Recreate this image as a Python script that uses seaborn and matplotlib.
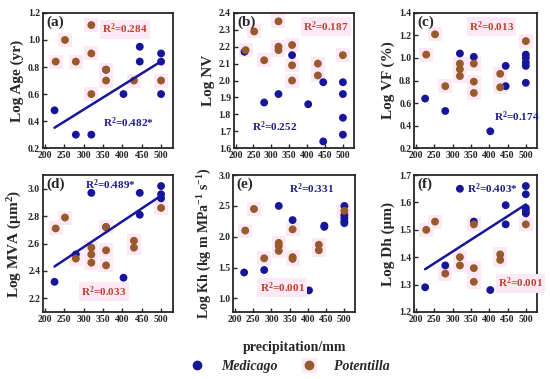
import numpy
import pandas
import seaborn
from matplotlib import pyplot
from matplotlib.legend_handler import HandlerTuple

# ---------------- data ----------------
# (a) Log Age
age_med_x = [225, 280, 320, 358, 403, 445, 445, 500, 500, 500]
age_med_y = [0.48, 0.30, 0.30, 0.78, 0.60, 0.95, 0.84, 0.90, 0.84, 0.60]
age_pot_x = [228, 252, 280, 320, 320, 320, 358, 358, 430, 500]
age_pot_y = [0.84, 1.00, 0.84, 1.11, 0.90, 0.60, 0.78, 0.70, 0.70, 0.70]

# (b) Log NV
nv_med_x = [225, 280, 320, 358, 403, 445, 445, 500, 500, 500, 500]
nv_med_y = [2.17, 1.87, 1.92, 2.15, 1.86, 1.99, 1.64, 1.99, 1.92, 1.78, 1.68]
nv_pot_x = [228, 252, 280, 320, 320, 320, 358, 358, 358, 430, 430, 500]
nv_pot_y = [2.18, 2.29, 2.12, 2.35, 2.20, 2.18, 2.21, 2.09, 2.00, 2.10, 2.03, 2.15]

# (c) Log VF
vf_med_x = [225, 280, 320, 358, 403, 445, 445, 500, 500, 500, 500, 500]
vf_med_y = [0.64, 0.53, 1.04, 1.01, 0.35, 0.93, 0.75, 1.03, 1.00, 0.96, 0.93, 0.78]
vf_pot_x = [228, 252, 280, 320, 320, 320, 358, 358, 358, 430, 430, 500]
vf_pot_y = [1.03, 1.21, 0.75, 0.95, 0.90, 0.84, 0.95, 0.79, 0.69, 0.86, 0.74, 1.15]

# (d) Log MVA
mva_med_x = [225, 280, 320, 358, 403, 445, 445, 500, 500, 500]
mva_med_y = [2.32, 2.52, 2.97, 2.72, 2.35, 2.97, 2.81, 3.02, 2.96, 2.93]
mva_pot_x = [228, 252, 280, 320, 320, 320, 358, 358, 358, 430, 430, 500]
mva_pot_y = [2.71, 2.79, 2.49, 2.57, 2.52, 2.46, 2.72, 2.55, 2.44, 2.62, 2.57, 2.86]

# (e) Log Kh
kh_med_x = [225, 280, 320, 358, 403, 445, 445, 500, 500, 500, 500, 500]
kh_med_y = [1.42, 1.46, 2.50, 2.27, 1.13, 2.18, 2.16, 2.50, 2.35, 2.30, 2.25, 2.22]
kh_pot_x = [228, 252, 280, 320, 320, 320, 358, 358, 358, 430, 430, 500]
kh_pot_y = [2.10, 2.45, 1.65, 1.90, 1.85, 1.77, 2.12, 1.67, 1.64, 1.87, 1.78, 2.42]

# (f) Log Dh
dh_med_x = [225, 280, 320, 358, 403, 445, 445, 500, 500, 500, 500, 500]
dh_med_y = [1.29, 1.37, 1.65, 1.53, 1.28, 1.59, 1.52, 1.66, 1.63, 1.58, 1.57, 1.56]
dh_pot_x = [228, 252, 280, 320, 320, 358, 358, 358, 430, 430, 500]
dh_pot_y = [1.50, 1.53, 1.34, 1.40, 1.37, 1.52, 1.36, 1.31, 1.41, 1.39, 1.52]

BLUE = '#16169a'
BROWN = '#985a2c'
RED_TEXT = '#b8432e'
BLUE_TEXT = '#1c1c8a'
PINK = '#fde8f5'

seaborn.set_style('ticks')
pyplot.rcParams['font.family'] = ['Liberation Serif', 'DejaVu Serif']
pyplot.rcParams['font.weight'] = 'bold'
pyplot.rcParams['mathtext.fontset'] = 'custom'
pyplot.rcParams['mathtext.rm'] = 'Liberation Serif:bold'
pyplot.rcParams['mathtext.bf'] = 'Liberation Serif:bold'
pyplot.rcParams['mathtext.it'] = 'Liberation Serif:bold:italic'
pyplot.rcParams['mathtext.default'] = 'bf'

panels = [
    # label, ylabel, label size, med x, med y, pot x, pot y, ylim, yticks, line?,
    # blue text, brown text, position
    ('(a)', 'Log Age (yr)', 11, age_med_x, age_med_y, age_pot_x, age_pot_y,
     (0.2, 1.2), numpy.arange(0.2, 1.21, 0.2), True,
     ('R$^2$=0.482*', 0.66, 0.19), ('R$^2$=0.284', 0.63, 0.88),
     [0.078, 0.609, 0.236, 0.357]),
    ('(b)', 'Log NV', 11, nv_med_x, nv_med_y, nv_pot_x, nv_pot_y,
     (1.6, 2.4), numpy.arange(1.6, 2.41, 0.1), False,
     ('R$^2$=0.252', 0.34, 0.16), ('R$^2$=0.187', 0.77, 0.90),
     [0.425, 0.609, 0.218, 0.357]),
    ('(c)', 'Log VF (%)', 11, vf_med_x, vf_med_y, vf_pot_x, vf_pot_y,
     (0.2, 1.4), numpy.arange(0.2, 1.41, 0.2), False,
     ('R$^2$=0.174', 0.84, 0.23), ('R$^2$=0.013', 0.63, 0.90),
     [0.753, 0.609, 0.223, 0.357]),
    ('(d)', 'Log MVA (μm$^2$)', 11, mva_med_x, mva_med_y, mva_pot_x, mva_pot_y,
     (2.1, 3.1), numpy.arange(2.2, 3.01, 0.2), True,
     ('R$^2$=0.489*', 0.52, 0.93), ('R$^2$=0.033', 0.47, 0.15),
     [0.078, 0.177, 0.236, 0.361]),
    ('(e)', 'Log Kh (kg m MPa$^{-1}$ s$^{-1}$)', 10, kh_med_x, kh_med_y, kh_pot_x, kh_pot_y,
     (0.78, 3.0), numpy.arange(1.0, 3.01, 0.5), False,
     ('R$^2$=0.331', 0.64, 0.90), ('R$^2$=0.001', 0.40, 0.18),
     [0.424, 0.177, 0.222, 0.361]),
    ('(f)', 'Log Dh (μm)', 11, dh_med_x, dh_med_y, dh_pot_x, dh_pot_y,
     (1.2, 1.7), numpy.arange(1.2, 1.71, 0.1), True,
     ('R$^2$=0.403*', 0.64, 0.90), ('R$^2$=0.001', 0.87, 0.21),
     [0.753, 0.177, 0.223, 0.361]),
]

figure = pyplot.figure(figsize=(5.5, 3.79), dpi=100)

for (label, ylabel, label_size, mx, my, px, py, ylim, yticks, line,
     blue_text, brown_text, position) in panels:

    axes = figure.add_axes(position)

    # pale pink squares behind the Potentilla points, as in the reference
    axes.scatter(px, py, marker='s', s=90, color=PINK, linewidths=0, zorder=1)

    medicago = pandas.DataFrame({'x': mx, 'y': my})
    potentilla = pandas.DataFrame({'x': px, 'y': py})
    seaborn.scatterplot(data=potentilla, x='x', y='y', color=BROWN, s=32,
                        edgecolor='none', ax=axes, zorder=3)
    seaborn.scatterplot(data=medicago, x='x', y='y', color=BLUE, s=32,
                        edgecolor='none', ax=axes, zorder=2)

    if line:
        seaborn.regplot(data=medicago, x='x', y='y', scatter=False, ci=None,
                        truncate=True, ax=axes,
                        line_kws={'color': BLUE, 'lw': 1.8, 'zorder': 4})

    axes.set_xlim(195, 530)
    axes.set_ylim(*ylim)
    axes.set_xticks([200, 250, 300, 350, 400, 450, 500])
    axes.set_yticks(yticks)
    axes.set_yticklabels([f'{t:.1f}' for t in yticks])
    axes.tick_params(direction='in', length=3, width=1, labelsize=7, pad=2)
    for tick in axes.get_xticklabels() + axes.get_yticklabels():
        tick.set_fontweight('bold')
    for spine in axes.spines.values():
        spine.set_linewidth(1.3)
        spine.set_visible(True)

    axes.set_xlabel('')
    axes.set_ylabel(ylabel, fontsize=label_size, fontweight='bold', labelpad=3)
    axes.text(0.03, 0.93, label, transform=axes.transAxes, fontsize=11,
              fontweight='bold', va='center', ha='left')

    text, tx, ty = blue_text
    axes.text(tx, ty, text, transform=axes.transAxes, color=BLUE_TEXT,
              fontsize=8, fontweight='bold', ha='center', va='center', zorder=5)
    text, tx, ty = brown_text
    axes.text(tx, ty, text, transform=axes.transAxes, color=RED_TEXT,
              fontsize=8, fontweight='bold', ha='center', va='center', zorder=5,
              bbox={'facecolor': PINK, 'edgecolor': 'none', 'pad': 1.5})

# shared x label and legend
figure.text(0.535, 0.084, 'precipitation/mm', ha='center', va='center',
            fontsize=10, fontweight='bold')
medicago_handle = pyplot.Line2D([], [], marker='o', ls='none', color=BLUE,
                                markersize=6)
pink_handle = pyplot.Line2D([], [], marker='s', ls='none', color=PINK,
                            markersize=10)
potentilla_handle = pyplot.Line2D([], [], marker='o', ls='none', color=BROWN,
                                  markersize=6)
figure.legend([medicago_handle, (pink_handle, potentilla_handle)],
              ['Medicago', 'Potentilla'], loc='center',
              handler_map={tuple: HandlerTuple(ndivide=1)},
              bbox_to_anchor=(0.525, 0.033), ncol=2, frameon=False,
              prop={'style': 'italic', 'weight': 'bold', 'size': 10},
              handlelength=1.2, handletextpad=1.2, columnspacing=1.6)

figure.savefig('out.png', dpi=100)
